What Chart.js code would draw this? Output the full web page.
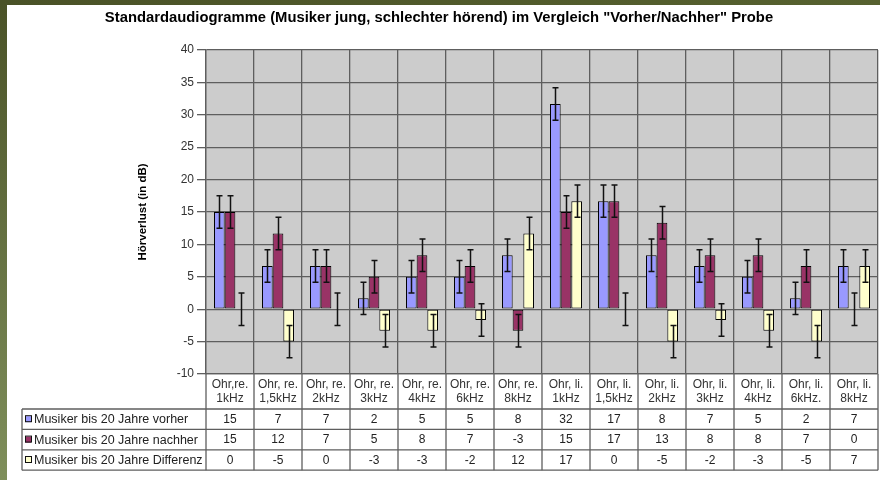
<!DOCTYPE html>
<html><head><meta charset="utf-8">
<script src="https://cdn.jsdelivr.net/npm/chart.js@4/dist/chart.umd.min.js"></script>
<style>html,body{margin:0;padding:0;background:#fff;}#wrap{width:880px;height:480px;position:relative;}</style>
</head><body><div id="wrap"><canvas id="c" width="880" height="480"></canvas></div>
<script>
const categories = [
  ['Ohr,re.','1kHz'],['Ohr, re.','1,5kHz'],['Ohr, re.','2kHz'],['Ohr, re.','3kHz'],
  ['Ohr, re.','4kHz'],['Ohr, re.','6kHz'],['Ohr, re.','8kHz'],['Ohr, li.','1kHz'],
  ['Ohr, li.','1,5kHz'],['Ohr, li.','2kHz'],['Ohr, li.','3kHz'],['Ohr, li.','4kHz'],
  ['Ohr, li.','6kHz.'],['Ohr, li.','8kHz']
];
const seriesNames = ['Musiker bis 20 Jahre vorher','Musiker bis 20 Jahre nachher','Musiker bis 20 Jahre Differenz'];
const vorher    = [15, 6.67, 6.67, 1.67, 5, 5, 8.33, 31.67, 16.67, 8.33, 6.67, 5, 1.67, 6.67];
const nachher   = [15, 11.67, 6.67, 5, 8.33, 6.67, -3.33, 15, 16.67, 13.33, 8.33, 8.33, 6.67, 0];
const differenz = [0, -5, 0, -3.33, -3.33, -1.67, 11.67, 16.67, 0, -5, -1.67, -3.33, -5, 6.67];
const errVorher    = [2.5, 2.5, 2.5, 2.5, 2.5, 2.5, 2.5, 2.5, 2.5, 2.5, 2.5, 2.5, 2.5, 2.5];
const errNachher   = [2.5, 2.5, 2.5, 2.5, 2.5, 2.5, 2.5, 2.5, 2.5, 2.5, 2.5, 2.5, 2.5, 2.5];
const errDifferenz = [2.5, 2.5, 2.5, 2.5, 2.5, 2.5, 2.5, 2.5, 2.5, 2.5, 2.5, 2.5, 2.5, 2.5];
const colors = ['#9999FF','#993366','#FFFFCC'];
const titleText = 'Standardaudiogramme (Musiker jung, schlechter hörend) im Vergleich "Vorher/Nachher" Probe';
const yTitle = 'Hörverlust (in dB)';

const FONT = '"Liberation Sans", Arial, sans-serif';
const errors = [errVorher, errNachher, errDifferenz];
const seriesValues = [vorher, nachher, differenz];
const GRID = '#5e5e5e';

const bgPlugin = {
  id: 'bg',
  beforeDraw(chart) {
    const {ctx, chartArea: ca, width, height} = chart;
    ctx.save();
    ctx.fillStyle = '#ffffff';
    ctx.fillRect(0, 0, width, height);
    const g = ctx.createLinearGradient(0, 0, 0, height);
    g.addColorStop(0, '#4a5227');
    g.addColorStop(1, '#7f8f5b');
    ctx.fillStyle = g;
    ctx.fillRect(0, 0, 7, height);
    const g2 = ctx.createLinearGradient(0, 0, width, 0);
    g2.addColorStop(0, '#4a5227');
    g2.addColorStop(1, '#56612f');
    ctx.fillStyle = g2;
    ctx.fillRect(0, 0, width, 5);
    ctx.fillStyle = '#cccccc';
    ctx.fillRect(ca.left, ca.top, ca.right - ca.left, ca.bottom - ca.top);
    ctx.restore();
  }
};

const errPlugin = {
  id: 'errbars',
  afterDatasetsDraw(chart) {
    const {ctx} = chart;
    const ys = chart.scales.y;
    ctx.save();
    ctx.strokeStyle = '#111';
    ctx.lineWidth = 1.5;
    chart.data.datasets.forEach((ds, di) => {
      const meta = chart.getDatasetMeta(di);
      meta.data.forEach((bar, i) => {
        const v = ds.data[i], e = errors[di][i];
        const yt = ys.getPixelForValue(v + e), yb = ys.getPixelForValue(v - e);
        const x = Math.round(bar.x) + 0.5;
        ctx.beginPath();
        ctx.moveTo(x, yt); ctx.lineTo(x, yb);
        ctx.moveTo(x - 3, yt); ctx.lineTo(x + 3, yt);
        ctx.moveTo(x - 3, yb); ctx.lineTo(x + 3, yb);
        ctx.stroke();
      });
    });
    ctx.restore();
  }
};

const tablePlugin = {
  id: 'datatable',
  afterDraw(chart) {
    const {ctx, chartArea: ca} = chart;
    const xs = chart.scales.x;
    const n = categories.length;
    const half = (xs.getPixelForValue(1) - xs.getPixelForValue(0)) / 2;
    const labelBottom = ca.bottom + 35;
    const rowH = 20.4;
    const tableBottom = labelBottom + rowH * 3;
    const leftX = 22;
    ctx.save();
    ctx.strokeStyle = GRID;
    ctx.lineWidth = 1.3;
    for (let i = 0; i <= n; i++) {
      const x = (i < n ? xs.getPixelForValue(i) - half : xs.getPixelForValue(n - 1) + half);
      ctx.beginPath();
      ctx.moveTo(x, ca.bottom); ctx.lineTo(x, tableBottom);
      ctx.stroke();
    }
    ctx.beginPath();
    ctx.moveTo(leftX, labelBottom); ctx.lineTo(leftX, tableBottom);
    ctx.stroke();
    for (let r = 0; r <= 3; r++) {
      const y = labelBottom + r * rowH;
      ctx.beginPath();
      ctx.moveTo(leftX, y); ctx.lineTo(ca.right, y);
      ctx.stroke();
    }
    ctx.textBaseline = 'middle';
    for (let r = 0; r < 3; r++) {
      const yc = labelBottom + r * rowH + rowH / 2;
      ctx.fillStyle = colors[r];
      ctx.fillRect(25, yc - 3, 6, 6);
      ctx.strokeStyle = '#111';
      ctx.lineWidth = 1;
      ctx.strokeRect(25.5, yc - 3.5, 6, 6);
      ctx.fillStyle = '#222';
      ctx.textAlign = 'left';
      ctx.font = '12.5px ' + FONT;
      ctx.fillText(seriesNames[r], 34, yc + 0.5);
      ctx.textAlign = 'center';
      ctx.font = '12px ' + FONT;
      seriesValues[r].forEach((v, i) => {
        let t = Math.round(v);
        if (Object.is(t, -0)) t = 0;
        ctx.fillText(String(t), xs.getPixelForValue(i), yc + 0.5);
      });
    }
    ctx.restore();
  }
};

new Chart(document.getElementById('c'), {
  type: 'bar',
  data: {
    labels: categories,
    datasets: seriesNames.map((name, i) => ({
      label: name,
      data: seriesValues[i],
      backgroundColor: colors[i],
      borderColor: '#000',
      borderWidth: 1,
      borderSkipped: false,
      categoryPercentage: 0.667,
      barPercentage: 1.0
    }))
  },
  options: {
    responsive: false,
    animation: false,
    devicePixelRatio: 1,
    layout: {padding: {left: 0, right: 2, top: 0, bottom: 71}},
    plugins: {
      legend: {display: false},
      tooltip: {enabled: false},
      title: {
        display: true,
        text: titleText,
        color: '#000',
        font: {family: FONT, size: 14.8, weight: 'bold'},
        padding: {top: 9, bottom: 23.2}
      }
    },
    scales: {
      x: {
        grid: {color: GRID, lineWidth: 1.3, drawTicks: false, offset: true},
        border: {color: GRID, width: 1.3},
        ticks: {color: '#333', font: {family: FONT, size: 12}, padding: 3, maxRotation: 0, autoSkip: false},
        afterFit(scale) { scale.height = 35; }
      },
      y: {
        min: -10, max: 40,
        ticks: {stepSize: 5, color: '#333', font: {family: FONT, size: 12}, padding: 3},
        grid: {color: GRID, lineWidth: 1.3, tickLength: 9},
        border: {color: GRID, width: 1.3},
        title: {display: true, text: yTitle, color: '#000', font: {family: FONT, size: 11.5, weight: 'bold'}, padding: {top: 136, bottom: 0}},
        afterFit(scale) { scale.width = 206; }
      }
    }
  },
  plugins: [bgPlugin, errPlugin, tablePlugin]
});
</script>
</body></html>
